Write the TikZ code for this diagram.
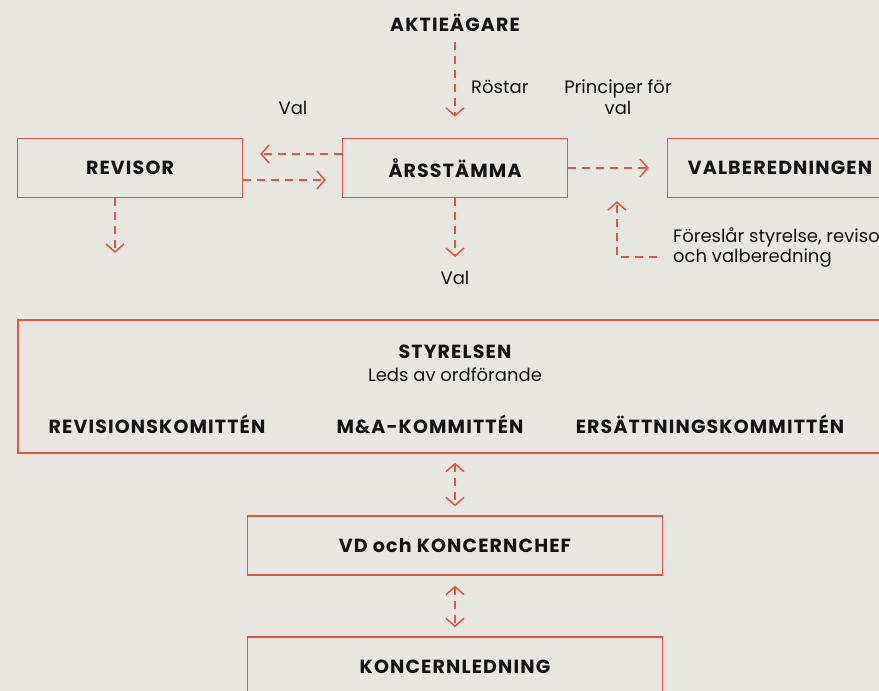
\documentclass[tikz,border=0pt]{standalone}
\usepackage{fontspec}
\setmainfont{Poppins}
\newfontfamily\capsfont[LetterSpace=6]{Poppins}
\usetikzlibrary{arrows.meta, positioning}
\definecolor{bgcol}{HTML}{E8E6E1}
\definecolor{linered}{HTML}{E4553F}
\definecolor{inkcol}{HTML}{141414}

\tikzset{
  box/.style={draw=linered, line width=1.3pt, minimum width=225pt,
    minimum height=59pt, inner sep=0pt},
  title/.style={font=\capsfont\bfseries\fontsize{19}{22}\selectfont, text=inkcol, inner sep=1pt},
  label/.style={font=\fontsize{18}{21}\selectfont, text=inkcol, inner sep=1pt, align=center},
  dasharrow/.style={draw=linered, line width=1.5pt, dash pattern=on 8pt off 6pt,
    -{Straight Barb[length=8pt, width=18pt, line width=1.5pt]}},
  dashboth/.style={dasharrow,
    {Straight Barb[length=8pt, width=18pt, line width=1.5pt]}-{Straight Barb[length=8pt, width=18pt, line width=1.5pt]}}
}

\begin{document}
\begin{tikzpicture}[x=1pt, y=-1pt, node distance=325pt and 325pt, on grid]

\fill[bgcol] (0,0) rectangle (879,691);
\useasboundingbox (0,0) rectangle (879,691);

% 上段ノード
\node[box] (arsstamma) at (455,168) {};
\node[title] at (arsstamma) {ÅRSSTÄMMA};
\node[box] (revisor) [left=of arsstamma] {};
\node[title] at (revisor) {REVISOR};
\node[box] (valb) [right=325pt of arsstamma] {};
\node[title] at (valb) {VALBEREDNINGEN};
\node[title] (aktie) at (455,23) {AKTIEÄGARE};

% ラベル
\node[label, anchor=west] (rostar) at (470,87) {Röstar};
\node[label] (princip) at (618,97.5) {Principer för\\val};
\node[label] (valvanster) at (293,108) {Val};
\node[label] (valned) at (455,278) {Val};
\node[label, anchor=west, align=left] (forslag) at (672,247.5) {Föreslår styrelse, revisor\\[-1.5pt]och valberedning};

% 矢印
\draw[dasharrow, shorten <=9pt, shorten >=21pt] (aktie) -- (arsstamma);
\draw[dasharrow, shorten >=17pt] ([yshift=14pt]arsstamma.west) -- ([yshift=14pt]revisor.east);
\draw[dasharrow, shorten >=16pt] ([yshift=-12pt]revisor.east) -- ([yshift=-12pt]arsstamma.west);
\draw[dasharrow, shorten >=18pt] (arsstamma.east) -- (valb.west);
\coordinate (revend) at (115,253);
\draw[dasharrow] ([xshift=-15pt]revisor.south) -- (revend);
\draw[dasharrow, shorten >=13pt] (arsstamma.south) -- (valned.north);
\draw[dasharrow, shorten >=3pt] ([shift={(-15pt,-9.5pt)}]forslag.west) -| ([xshift=-50pt]valb.south west);

% 下段ノード
\node[box, minimum width=874pt, minimum height=133pt] (styrelsen) at (455,386.5) {};
\node[title] (styr) at (455,352) {STYRELSEN};
\node[label] (leds) at (455,375) {Leds av ordförande};
\node[title] (revkom) at (157,424) {REVISIONSKOMITTÉN};
\node[title] (makom) at (430,424) {M\&A-KOMMITTÉN};
\node[title] (erskom) at (710,424) {ERSÄTTNINGSKOMMITTÉN};

\node[box, minimum width=415pt] (vd) at (455,545.5) {};
\node[title] at (vd) {VD och KONCERNCHEF};
\node[box, minimum width=415pt] (koncern) at (455,666.5) {};
\node[title] at (455,667) {KONCERNLEDNING};

\draw[dashboth, shorten <=9pt, shorten >=9pt] (styrelsen.south) -- (vd.north);
\draw[dashboth, shorten <=10pt, shorten >=9pt] (vd.south) -- (koncern.north);

\end{tikzpicture}
\end{document}
